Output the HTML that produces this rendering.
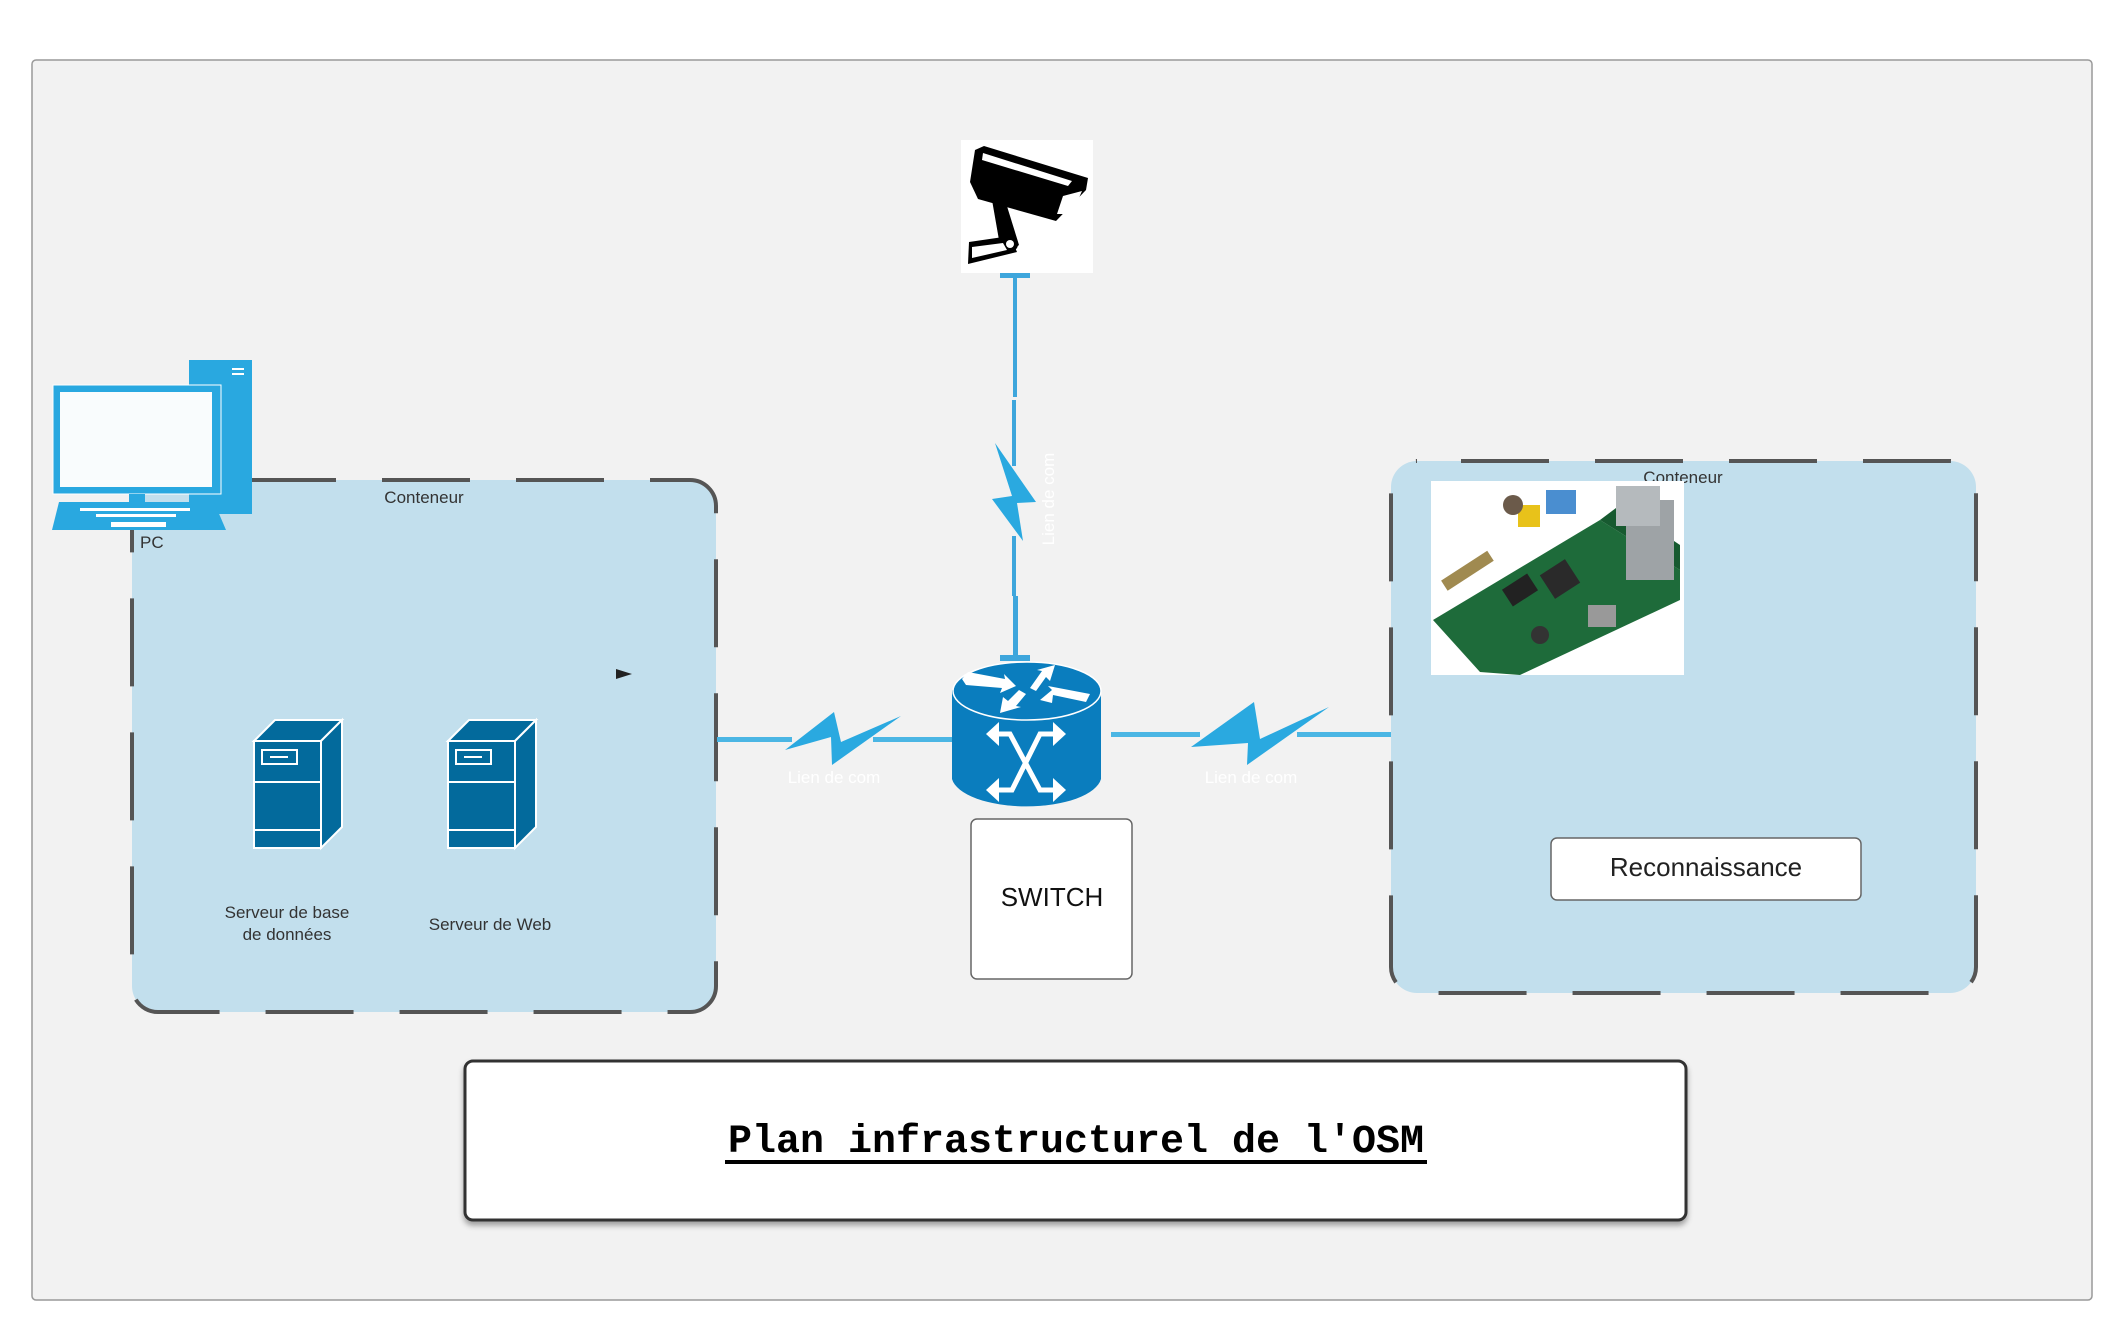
<!DOCTYPE html>
<html><head><meta charset="utf-8"><style>
html,body{margin:0;padding:0;background:#fff;}
svg{display:block;}
text{font-family:"Liberation Sans",Arial,sans-serif;}
</style></head><body>
<svg width="2123" height="1331" viewBox="0 0 2123 1331" xmlns="http://www.w3.org/2000/svg">
<defs>
<filter id="sh" x="-5%" y="-10%" width="110%" height="130%"><feDropShadow dx="0" dy="4" stdDeviation="3" flood-color="#000" flood-opacity="0.35"/></filter>
</defs>
<rect x="32" y="60" width="2060" height="1240" rx="4" fill="#f2f2f2" stroke="#999" stroke-width="1.5"/>

<!-- left container -->
<rect x="132" y="480" width="584" height="532" rx="26" fill="#c2dfed" stroke="#555" stroke-width="4" stroke-dasharray="88 46" stroke-dashoffset="44"/>
<text x="424" y="503" font-size="17" fill="#333" text-anchor="middle">Conteneur</text>
<!-- right container -->
<rect x="1391" y="461" width="585" height="532" rx="26" fill="#c2dfed" stroke="#555" stroke-width="4" stroke-dasharray="88 46" stroke-dashoffset="90"/>
<text x="1683" y="483" font-size="17" fill="#333" text-anchor="middle">Conteneur</text>

<!-- PC -->
<rect x="189" y="360" width="63" height="154" fill="#29a8e0"/>
<rect x="232" y="368" width="12" height="2" fill="#fff"/><rect x="232" y="373" width="12" height="2" fill="#fff"/>
<rect x="53" y="385" width="168" height="109" fill="#29a8e0" stroke="#fff" stroke-width="1"/>
<rect x="60" y="392" width="152" height="95" fill="#f9fcfd"/>
<rect x="129" y="494" width="16" height="8" fill="#29a8e0"/>
<polygon points="59,502 214,502 226,530 52,530" fill="#29a8e0"/>
<g fill="#fff">
<rect x="80" y="508" width="110" height="3"/><rect x="96" y="514" width="80" height="3"/><rect x="111" y="522" width="55" height="5"/>
</g>
<text x="140" y="548" font-size="17" fill="#333">PC</text>

<!-- servers -->
<g stroke="#fff" stroke-width="2" fill="#036a9c">
<polygon points="254,741 275,720 342,720 321,741"/>
<polygon points="321,741 342,720 342,827 321,848"/>
<rect x="254" y="741" width="67" height="107"/>
<line x1="254" y1="782" x2="321" y2="782"/><line x1="254" y1="830" x2="321" y2="830"/>
<rect x="262" y="750" width="35" height="14"/>
<polygon points="448,741 469,720 536,720 515,741"/>
<polygon points="515,741 536,720 536,827 515,848"/>
<rect x="448" y="741" width="67" height="107"/>
<line x1="448" y1="782" x2="515" y2="782"/><line x1="448" y1="830" x2="515" y2="830"/>
<rect x="456" y="750" width="35" height="14"/>
</g>
<g stroke="#fff" stroke-width="2"><line x1="270" y1="757" x2="288" y2="757"/><line x1="464" y1="757" x2="482" y2="757"/></g>
<text x="287" y="918" font-size="17" fill="#333" text-anchor="middle">Serveur de base</text>
<text x="287" y="940" font-size="17" fill="#333" text-anchor="middle">de données</text>
<text x="490" y="930" font-size="17" fill="#333" text-anchor="middle">Serveur de Web</text>
<polygon points="616,669 632,674 616,679" fill="#222"/>

<!-- links -->
<g fill="#4bb6e4">
<rect x="717" y="737" width="75" height="5"/><rect x="873" y="737" width="79" height="5"/>
<rect x="1111" y="732" width="89" height="5"/><rect x="1297" y="732" width="94" height="5"/>
</g>
<polygon points="785,750 834,712 841,742 901,716 832,765 831,737" fill="#2aa9e0"/>
<polygon points="1191,747 1254,702 1260,739 1329,707 1247,765 1248,743" fill="#2aa9e0"/>
<text x="834" y="783" font-size="17" fill="#fff" text-anchor="middle">Lien de com</text>
<text x="1251" y="783" font-size="17" fill="#fff" text-anchor="middle">Lien de com</text>

<!-- vertical link -->
<g fill="#3ea6dc">
<rect x="1000" y="273" width="30" height="5"/>
<rect x="1013" y="275" width="4" height="122"/>
<rect x="1012" y="400" width="4" height="66"/>
<rect x="1012" y="536" width="4" height="60"/>
<rect x="1013" y="596" width="5" height="60"/>
<rect x="1000" y="655" width="30" height="6"/>
</g>
<polygon points="995,443 1036,502 1017,503 1023,541 992,499 1012,496" fill="#2aa9e0"/>
<text transform="translate(1054,499) rotate(-90)" font-size="17" fill="#fff" text-anchor="middle">Lien de com</text>

<!-- camera -->
<rect x="961" y="140" width="132" height="133" fill="#fff"/>
<g fill="#000">
<polygon points="975,150 984,146 1088,178 1086,190 1056,221 978,199 970,182"/>
<polygon points="992,200 1006,203 1019,245 1010,252 999,240"/>
<polygon points="969,242 1010,236 1017,252 968,264"/>
<circle cx="1010" cy="244" r="8"/>
</g>
<polygon points="983,153 1072,181 1068,186 982,160" fill="#fff"/>
<polygon points="972,247 1003,243 1007,250 972,258" fill="#fff"/>
<circle cx="1010" cy="244" r="4" fill="#fff"/>
<polygon points="1063,196 1082,191 1072,214 1057,214" fill="#fff"/>

<!-- router -->
<path d="M952,691 L952,779 A75,31 0 0 0 1101,779 L1101,691 A75,30 0 0 0 952,691 Z" fill="#0a7dbe"/>
<ellipse cx="1027" cy="691" rx="74" ry="29" fill="#0a7dbe" stroke="#fff" stroke-width="1.5"/>
<g fill="#fff">
<polygon points="962,679 968,672 1005,679 1004,674 1016,686 1000,693 1002,688 966,685"/>
<polygon points="1030,688 1042,671 1037,670 1055,665 1050,681 1046,677 1036,691"/>
<polygon points="1040,700 1052,690 1048,686 1090,694 1086,702 1053,695 1052,703"/>
<polygon points="1026,694 1016,706 1021,707 1000,713 1003,697 1008,701 1019,690"/>
</g>
<g stroke="#fff" stroke-width="5" fill="none">
<polyline points="990,734 1010,734 1040,790 1060,790"/>
<polyline points="1060,734 1040,734 1012,790 990,790"/>
</g>
<g fill="#fff">
<polygon points="986,734 999,722 999,746"/><polygon points="1066,734 1053,722 1053,746"/>
<polygon points="986,790 999,778 999,802"/><polygon points="1066,790 1053,778 1053,802"/>
</g>

<!-- switch box -->
<rect x="971" y="819" width="161" height="160" rx="6" fill="#fff" stroke="#666" stroke-width="1.5"/>
<text x="1052" y="906" font-size="26" fill="#111" text-anchor="middle">SWITCH</text>

<!-- raspberry pi -->
<rect x="1431" y="481" width="253" height="194" fill="#fff"/>
<polygon points="1433,620 1600,520 1680,570 1680,600 1520,675 1480,672" fill="#1e6b3a"/>
<polygon points="1600,520 1620,505 1680,545 1680,570" fill="#175a30"/>
<rect x="1440" y="565" width="55" height="12" fill="#a08a50" transform="rotate(-33 1467 571)"/>
<rect x="1505" y="580" width="30" height="20" fill="#222" transform="rotate(-33 1520 590)"/>
<rect x="1545" y="565" width="30" height="28" fill="#2a2a2a" transform="rotate(-33 1560 579)"/>
<rect x="1626" y="500" width="48" height="80" fill="#9ea3a6"/>
<rect x="1616" y="486" width="44" height="40" fill="#b5babd"/>
<rect x="1518" y="505" width="22" height="22" fill="#e8c21a"/>
<circle cx="1513" cy="505" r="10" fill="#6b5a4a"/>
<rect x="1546" y="490" width="30" height="24" fill="#4a8ed0"/>
<rect x="1588" y="605" width="28" height="22" fill="#999"/>
<circle cx="1540" cy="635" r="9" fill="#333"/>

<rect x="1551" y="838" width="310" height="62" rx="6" fill="#fff" stroke="#666" stroke-width="1.5"/>
<text x="1706" y="876" font-size="26" fill="#222" text-anchor="middle">Reconnaissance</text>

<!-- title box -->
<rect x="465" y="1061" width="1221" height="159" rx="8" fill="#fff" stroke="#333" stroke-width="3" filter="url(#sh)"/>
<text x="1076" y="1152" font-size="40" font-weight="bold" fill="#000" text-anchor="middle" style="font-family:'Liberation Mono',monospace">Plan infrastructurel de l'OSM</text>
<rect x="725" y="1160" width="702" height="4" fill="#000"/>
</svg>
</body></html>
